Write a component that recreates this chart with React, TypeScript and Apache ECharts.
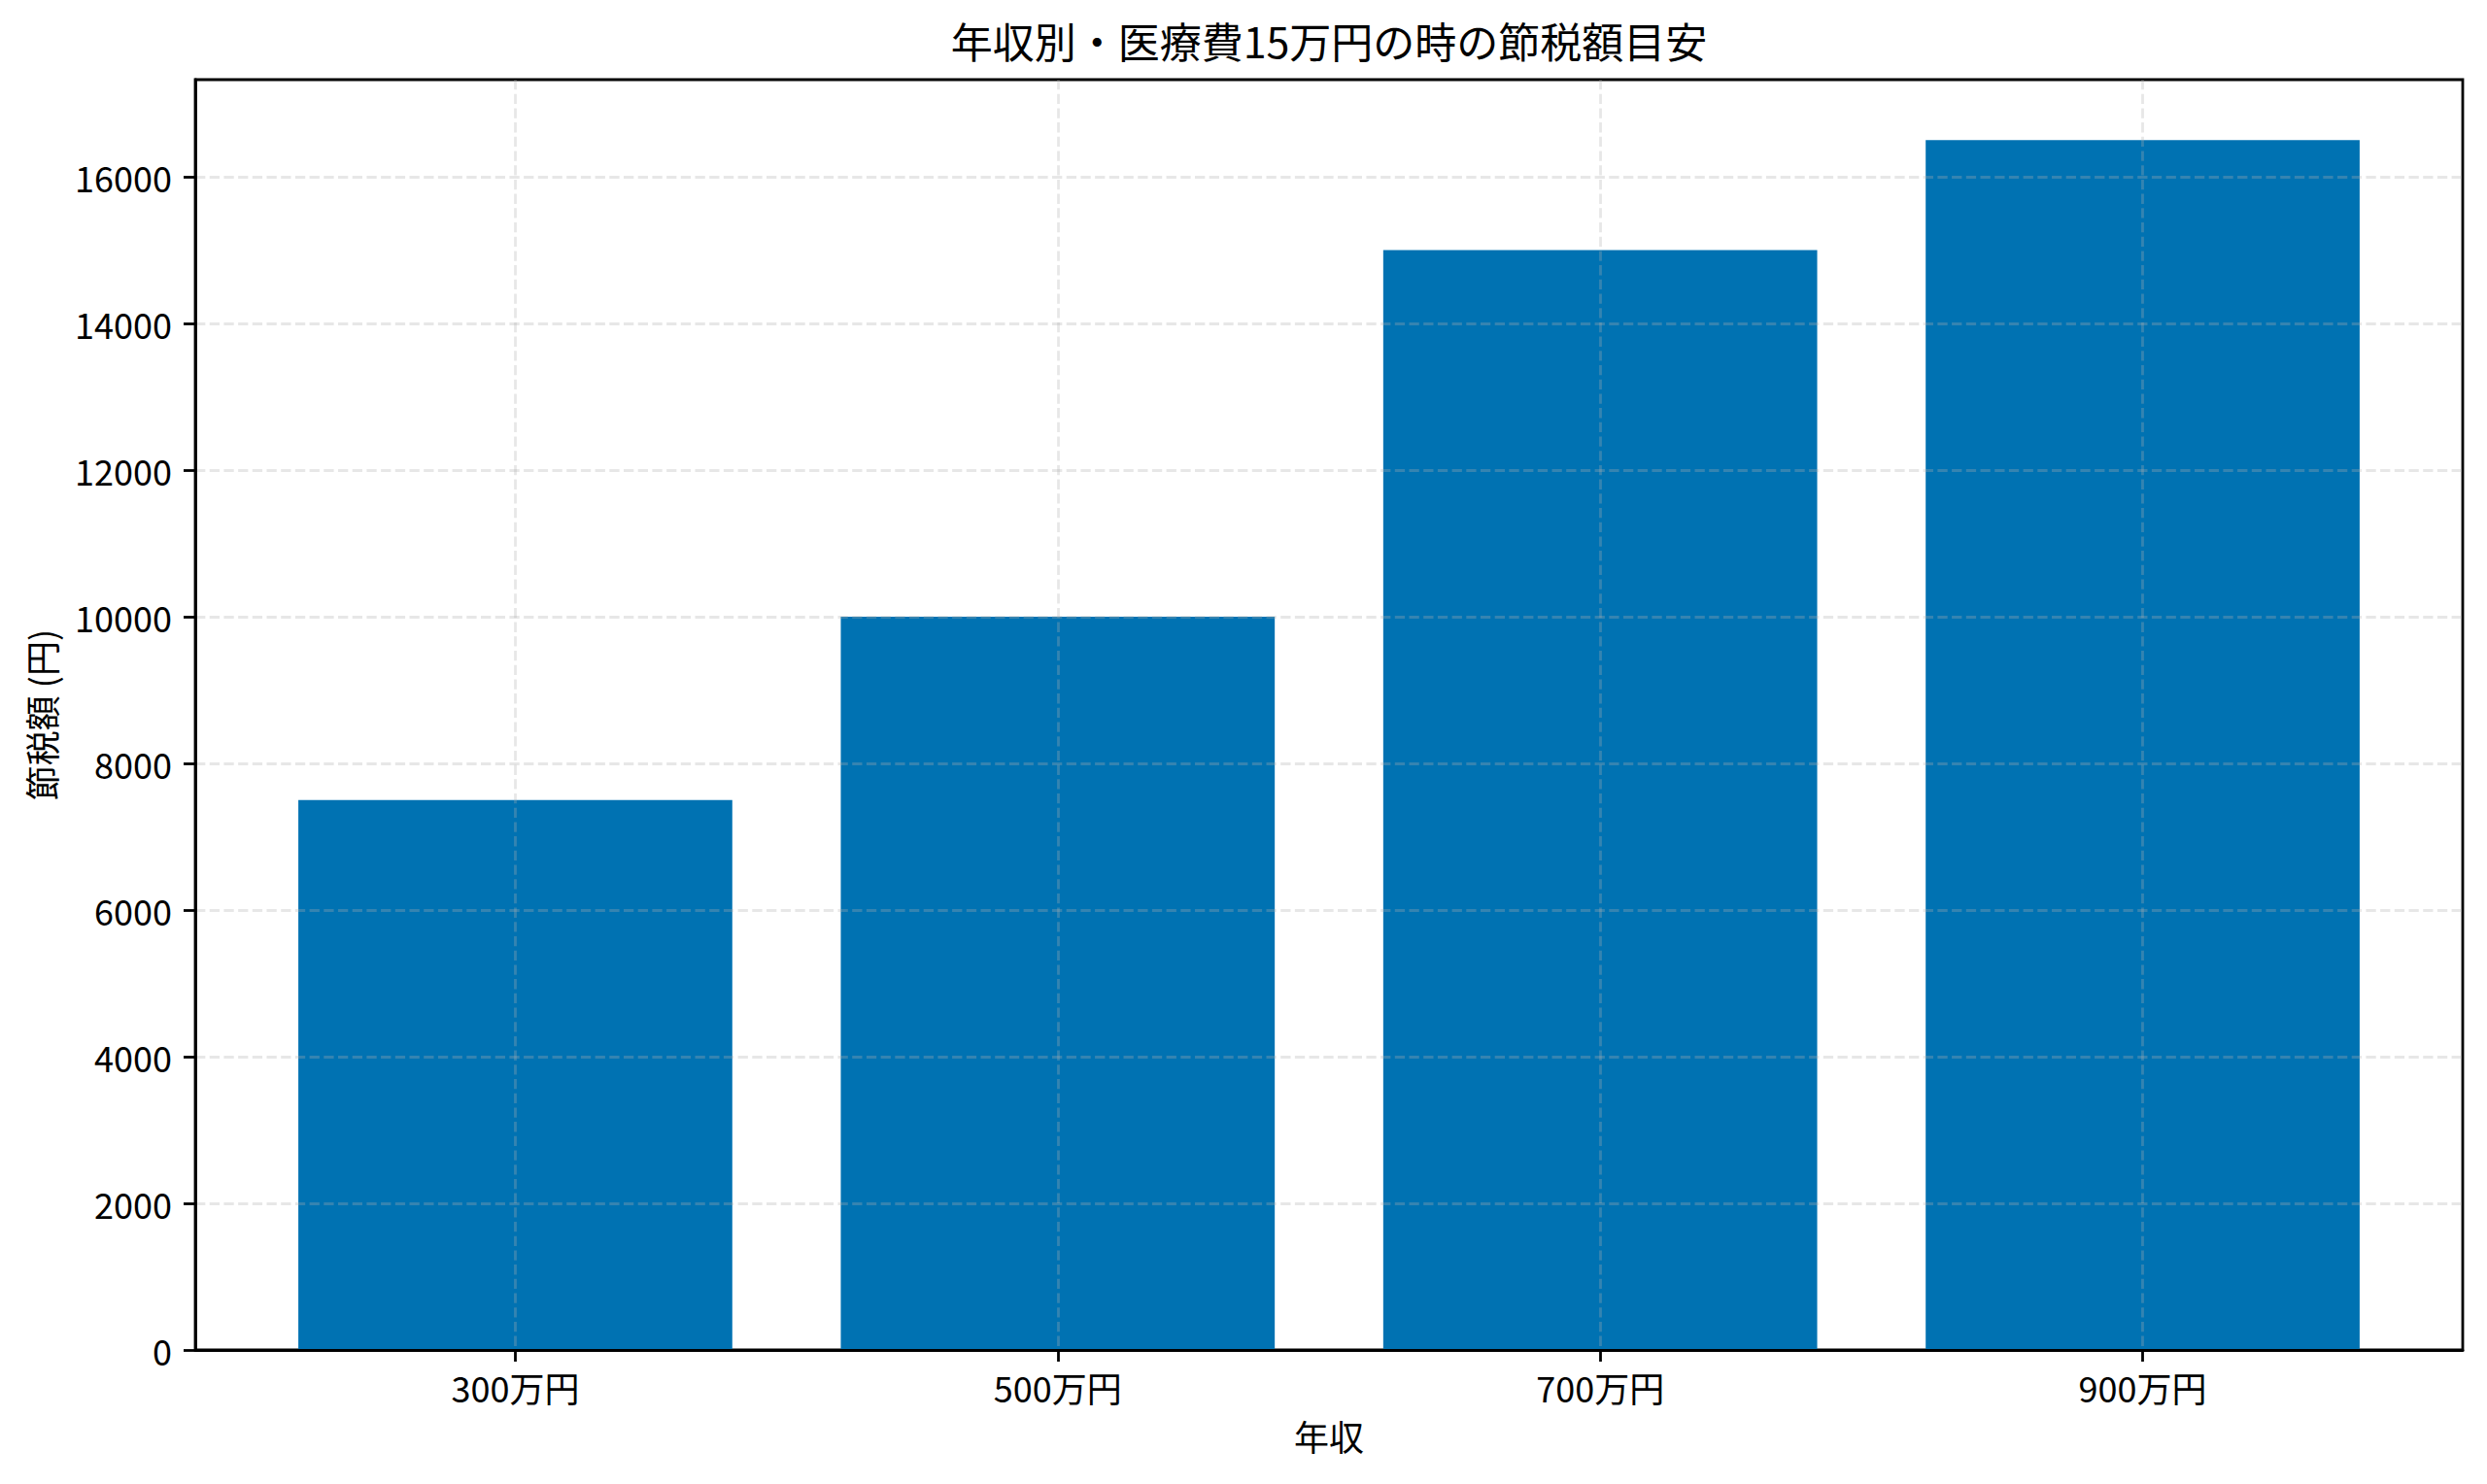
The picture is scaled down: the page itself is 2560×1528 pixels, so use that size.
import React, { useEffect, useRef } from "react";
import * as echarts from "echarts";

// Data
const CATEGORIES = ["300万円", "500万円", "700万円", "900万円"];
const SAVINGS = [7500, 10000, 15000, 16500];
const Y_TICKS = [0, 2000, 4000, 6000, 8000, 10000, 12000, 14000, 16000];

const TITLE = "年収別・医療費15万円の時の節税額目安";
const X_NAME = "年収";
const Y_NAME = "節税額 (円)";

const FONT = '"Noto Sans CJK JP", "Noto Sans", sans-serif';
const BAR_COLOR = "#0072B2";
const GRID_COLOR = "rgba(176,176,176,0.3)";
const LABEL_SIZE = 36;
const TITLE_SIZE = 43;

// matplotlib-like layout: 5% margins around bars of width 0.8
const X_MIN = -0.59;
const X_MAX = CATEGORIES.length - 1 + 0.59;
const Y_MAX = Math.max(...SAVINGS) * 1.05;
const GRID = { left: 201, right: 25, top: 82, bottom: 138 };

export default function App() {
  const chartRef = useRef<HTMLDivElement>(null);

  useEffect(() => {
    if (!chartRef.current) return;
    const chart = echarts.init(chartRef.current, undefined, { renderer: "svg" });

    const width = chart.getWidth();
    const plotW = width - GRID.left - GRID.right;
    const barWidth = (0.8 * plotW) / (X_MAX - X_MIN);
    const centerX = GRID.left + plotW / 2;

    const tickStyle = { show: true, inside: false, length: 12, lineStyle: { color: "#000", width: 2.8 } };
    const splitStyle = { show: true, lineStyle: { color: GRID_COLOR, width: 2.8, type: [10.3, 4.4] as any } };
    const axisLine = { show: true, onZero: false, lineStyle: { color: "#000", width: 2.8 } };
    const nameStyle = { color: "#000", fontSize: LABEL_SIZE, fontFamily: FONT };

    const option: echarts.EChartsOption = {
      animation: false,
      backgroundColor: "#fff",
      textStyle: { fontFamily: FONT },
      grid: {
        ...GRID,
        show: true,
        borderColor: "#000",
        borderWidth: 2.8,
        backgroundColor: "transparent",
      },
      graphic: [
        {
          type: "text",
          x: centerX,
          y: 62,
          style: {
            text: TITLE,
            fill: "#000",
            font: `${TITLE_SIZE}px ${FONT}`,
            textAlign: "center",
            textVerticalAlign: "bottom",
          },
        },
      ],
      xAxis: {
        type: "value",
        min: X_MIN,
        max: X_MAX,
        z: 3,
        name: X_NAME,
        nameLocation: "middle",
        nameGap: 70,
        nameTextStyle: nameStyle,
        axisLine,
        axisTick: { ...tickStyle, customValues: CATEGORIES.map((_, i) => i) } as any,
        axisLabel: {
          customValues: CATEGORIES.map((_, i) => i),
          formatter: (v: number) => CATEGORIES[Math.round(v)] ?? "",
          color: "#000",
          fontSize: LABEL_SIZE,
          fontFamily: FONT,
          margin: 20,
        } as any,
        splitLine: splitStyle,
      },
      yAxis: {
        type: "value",
        min: 0,
        max: Y_MAX,
        z: 3,
        name: Y_NAME,
        nameLocation: "middle",
        nameGap: 141,
        nameTextStyle: nameStyle,
        axisLine,
        axisTick: { ...tickStyle, customValues: Y_TICKS } as any,
        axisLabel: {
          customValues: Y_TICKS,
          formatter: (v: number) => String(v),
          color: "#000",
          fontSize: LABEL_SIZE,
          fontFamily: FONT,
          margin: 24,
        } as any,
        splitLine: splitStyle,
      },
      series: [
        {
          type: "bar",
          data: SAVINGS.map((v, i) => [i, v]),
          barWidth,
          itemStyle: { color: BAR_COLOR },
          silent: true,
        },
      ],
    };

    chart.setOption(option);
    return () => chart.dispose();
  }, []);

  return (
    <div
      ref={chartRef}
      style={{ position: "absolute", left: 0, top: 0, width: 2560, height: 1528 }}
    />
  );
}
